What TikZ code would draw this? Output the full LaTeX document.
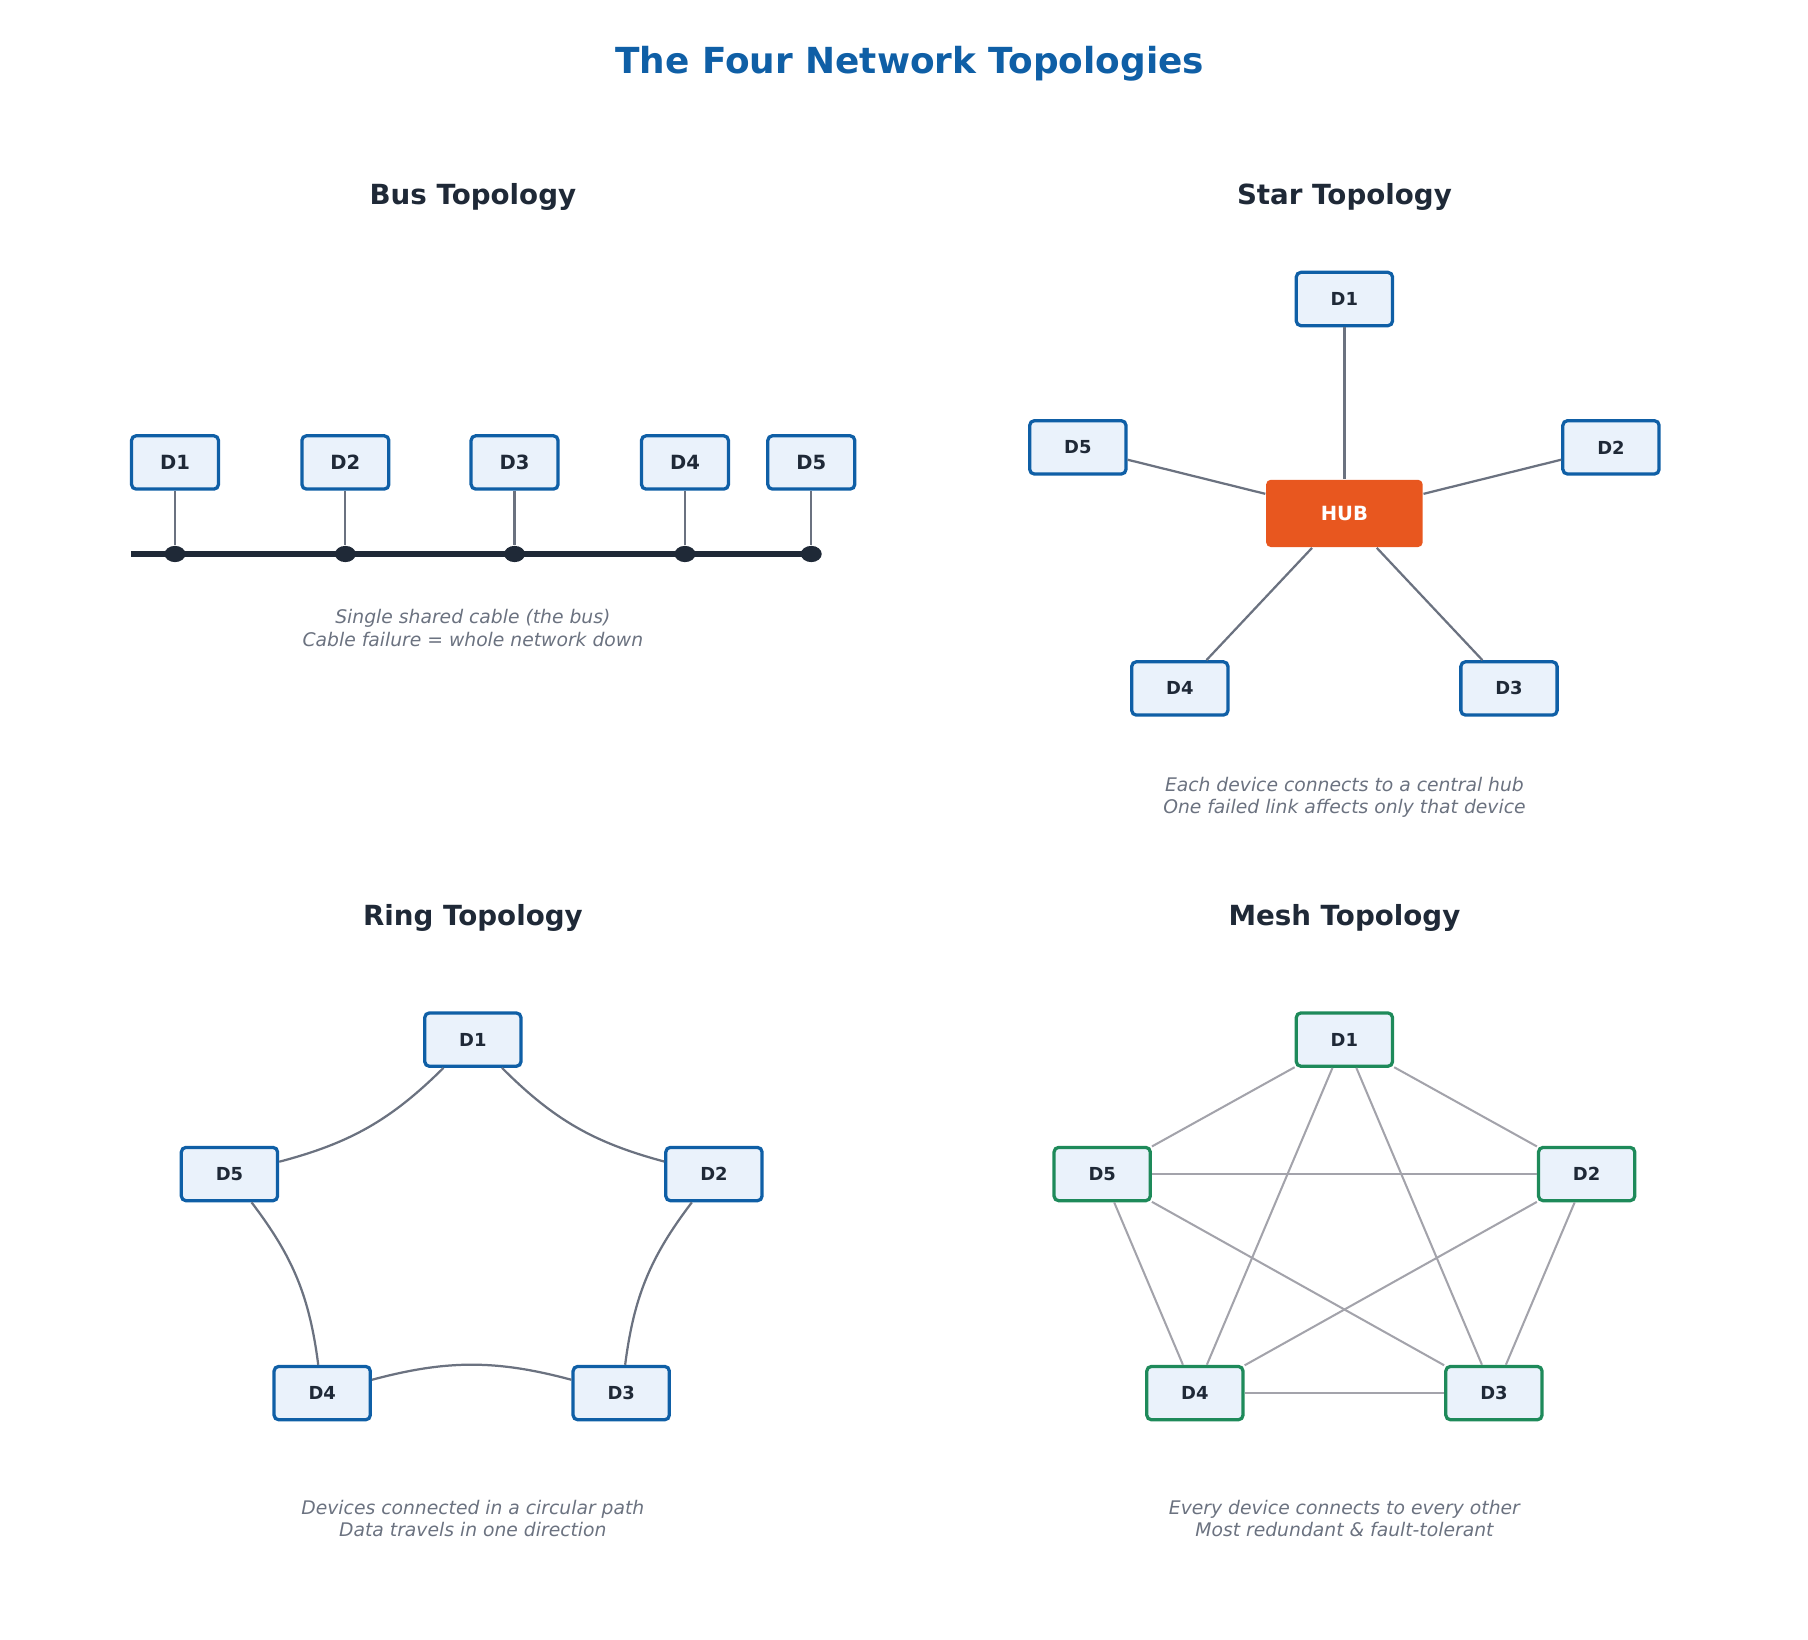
\documentclass[tikz,border=0pt]{standalone}
\usepackage{fontspec}
\setmainfont{DejaVu Sans}
\usetikzlibrary{shapes.geometric}
\definecolor{navy}{HTML}{0F5FA6}
\definecolor{boxfill}{HTML}{EAF2FB}
\definecolor{ink}{HTML}{1F2937}
\definecolor{wire}{HTML}{6B7280}
\definecolor{hub}{HTML}{E8571F}
\definecolor{meshc}{HTML}{1E8A5A}
\definecolor{meshwire}{HTML}{A3A3AB}
\tikzset{dev/.style={draw=navy,fill=boxfill,rectangle,rounded corners=0.4mm,line width=0.8pt,minimum width=8.3mm,minimum height=4.6mm,text=ink,font=\fontsize{4.4}{5}\selectfont\bfseries}}
\tikzset{busdev/.style={dev,minimum width=7.5mm,font=\fontsize{4.8}{5}\selectfont\bfseries}}
\tikzset{meshdev/.style={dev,draw=meshc}}
\tikzset{hubbox/.style={fill=hub,rectangle,rounded corners=0.4mm,minimum width=13.5mm,minimum height=5.8mm,text=white,font=\fontsize{4.8}{5}\selectfont\bfseries}}
\tikzset{sectitle/.style={text=ink,font=\fontsize{6.8}{8}\selectfont\bfseries}}
\tikzset{note/.style={text=wire,align=center,font=\fontsize{4.6}{5.5}\selectfont\itshape}}
\tikzset{link/.style={draw=wire,line width=0.55pt}}
\begin{document}
\begin{tikzpicture}[x=0.01cm,y=-0.01cm]
    \useasboundingbox (0,0) rectangle (1560,1415);
    \node[text=navy,font=\fontsize{8.8}{10}\selectfont\bfseries] (title) at (785,55) {The Four Network Topologies};

    % bus
    \node[sectitle] (bust) at (408,170) {Bus Topology};
    \coordinate (busl) at (113,478);
    \coordinate (busr) at (700,478);
    \draw[ink,line width=1.5pt] (busl) -- (busr);
    \foreach \n/\x in {1/151,2/298,3/444,4/591,5/700} {
        \node[busdev] (b\n) at (\x,399) {D\n};
        \node[ellipse,fill=ink,inner sep=0pt,minimum width=1.8mm,minimum height=1.4mm] (tap\n) at (\x,478) {};
        \draw[link] (b\n) -- (tap\n);
    }
    \node[note] (busnote) at (408,542) {Single shared cable (the bus)\\Cable failure = whole network down};

    % star
    \node[sectitle] (start) at (1160,170) {Star Topology};
    \node[dev] (s1) at (1160,258) {D1};
    \node[dev] (s2) at (1390,386) {D2};
    \node[dev] (s3) at (1302,594) {D3};
    \node[dev] (s4) at (1018,594) {D4};
    \node[dev] (s5) at (930,386) {D5};
    \node[hubbox] (hub) at (1160,443) {HUB};
    \foreach \n in {1,...,5} \draw[link] (hub) -- (s\n);
    \node[note] (starnote) at (1160,688) {Each device connects to a central hub\\One failed link affects only that device};

    % ring
    \node[sectitle] (ringt) at (408,792) {Ring Topology};
    \node[dev] (r1) at (408,897) {D1};
    \node[dev] (r2) at (616,1013) {D2};
    \node[dev] (r3) at (536,1202) {D3};
    \node[dev] (r4) at (278,1202) {D4};
    \node[dev] (r5) at (198,1013) {D5};
    \draw[link] (r1) to[bend right=15] (r2);
    \draw[link] (r2) to[bend right=15] (r3);
    \draw[link] (r3) to[bend right=15] (r4);
    \draw[link] (r4) to[bend right=15] (r5);
    \draw[link] (r5) to[bend right=15] (r1);
    \node[note] (ringnote) at (408,1310) {Devices connected in a circular path\\Data travels in one direction};

    % mesh
    \node[sectitle] (mesht) at (1160,792) {Mesh Topology};
    \node[meshdev] (m1) at (1160,897) {D1};
    \node[meshdev] (m2) at (1369,1013) {D2};
    \node[meshdev] (m3) at (1289,1202) {D3};
    \node[meshdev] (m4) at (1031,1202) {D4};
    \node[meshdev] (m5) at (951,1013) {D5};
    \foreach \i/\j in {1/2,1/3,1/4,1/5,2/3,2/4,2/5,3/4,3/5,4/5}
        \draw[meshwire,line width=0.5pt] (m\i) -- (m\j);
    \node[note] (meshnote) at (1160,1310) {Every device connects to every other\\Most redundant \& fault-tolerant};
\end{tikzpicture}
\end{document}
